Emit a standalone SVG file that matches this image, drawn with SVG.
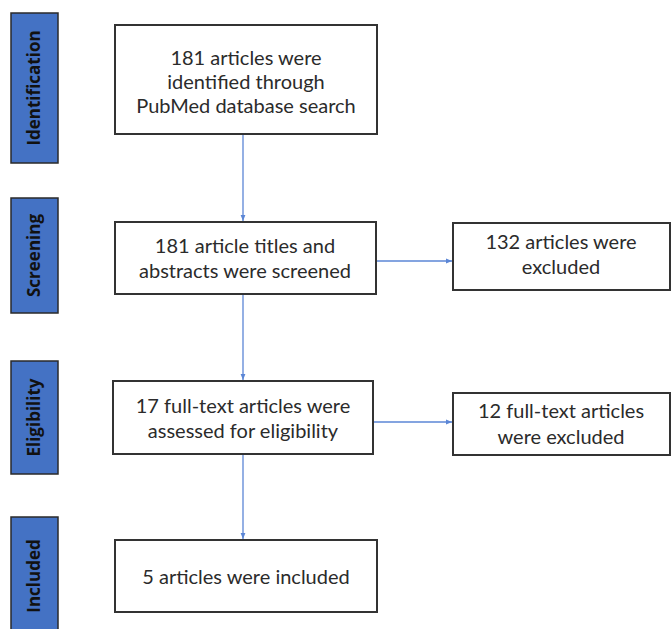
<svg xmlns="http://www.w3.org/2000/svg" width="672" height="629" viewBox="0 0 672 629">
<style>
.side{fill:#4472C4;stroke:#2a2a2a;stroke-width:1.5}
.sl{font-family:"Open Sans","Liberation Sans",sans-serif;font-weight:bold;font-size:17px;fill:#111;text-anchor:middle}
.box{fill:#fff;stroke:#333;stroke-width:2}
.t{font-family:Lato,"Open Sans","Liberation Sans",sans-serif;font-size:20px;fill:#2b2b2b;text-anchor:middle}
.c{stroke:#5b86d6;stroke-width:1.3;fill:none;marker-end:url(#ah)}
</style>
<defs>
<marker id="ah" viewBox="0 0 10 10" refX="10" refY="5" markerWidth="6" markerHeight="6" markerUnits="userSpaceOnUse" orient="auto">
<path d="M0,1 L10,5 L0,9 z" fill="#5b86d6"/>
</marker>
</defs>
<g id="phase-identification"><rect class="side" x="11" y="13" width="47" height="150"/><text class="sl" transform="translate(40,88) rotate(-90)">Identification</text></g>
<g id="phase-screening"><rect class="side" x="11" y="198" width="47" height="115"/><text class="sl" transform="translate(40,255.5) rotate(-90)">Screening</text></g>
<g id="phase-eligibility"><rect class="side" x="11" y="361" width="47" height="113"/><text class="sl" transform="translate(40,417.5) rotate(-90)">Eligibility</text></g>
<g id="phase-included"><rect class="side" x="11" y="517" width="47" height="125"/><text class="sl" transform="translate(40,576) rotate(-90)">Included</text></g>
<g id="connectors">
<line class="c" x1="243" y1="134" x2="243" y2="221"/>
<line class="c" x1="376" y1="261" x2="452" y2="261"/>
<line class="c" x1="243" y1="294" x2="243" y2="380"/>
<line class="c" x1="373" y1="422" x2="452" y2="422"/>
<line class="c" x1="243" y1="455" x2="243" y2="539"/>
</g>
<g id="n-identified"><rect class="box" x="115" y="25" width="262" height="109"/>
<text class="t" x="246" y="65">181 articles were</text>
<text class="t" x="246" y="89">identified through</text>
<text class="t" x="246" y="113">PubMed database search</text></g>
<g id="n-screened"><rect class="box" x="115" y="222" width="261" height="72"/>
<text class="t" x="245" y="253">181 article titles and</text>
<text class="t" x="245" y="278">abstracts were screened</text></g>
<g id="n-excluded1"><rect class="box" x="453" y="223" width="217" height="67"/>
<text class="t" x="561" y="249">132 articles were</text>
<text class="t" x="561" y="274">excluded</text></g>
<g id="n-eligibility"><rect class="box" x="113" y="381" width="260" height="73"/>
<text class="t" x="243" y="413">17 full-text articles were</text>
<text class="t" x="243" y="438">assessed for eligibility</text></g>
<g id="n-excluded2"><rect class="box" x="453" y="393" width="217" height="62"/>
<text class="t" x="561" y="418">12 full-text articles</text>
<text class="t" x="561" y="444">were excluded</text></g>
<g id="n-included"><rect class="box" x="115" y="540" width="262" height="72"/>
<text class="t" x="246" y="584">5 articles were included</text></g>
</svg>
